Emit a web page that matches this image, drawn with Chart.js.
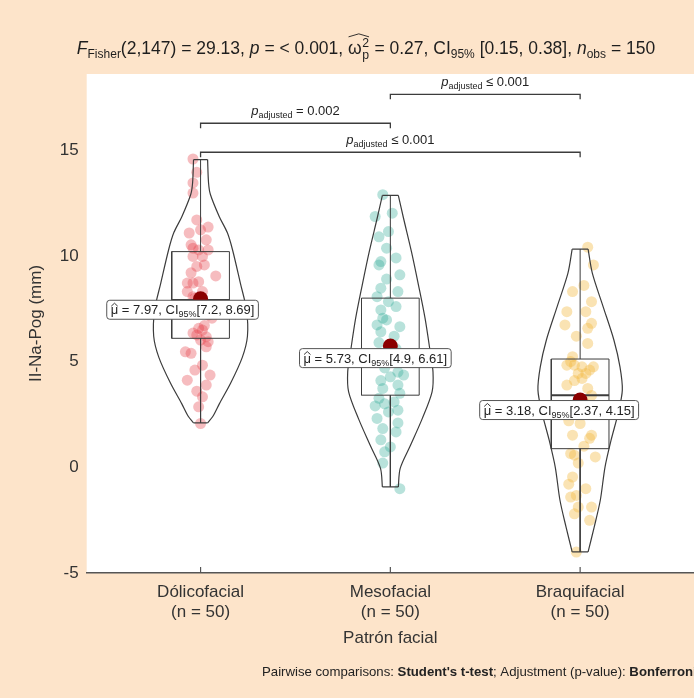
<!DOCTYPE html>
<html>
<head>
<meta charset="utf-8">
<script src="https://cdn.jsdelivr.net/npm/chart.js@4.4.0/dist/chart.umd.min.js"></script>
<style>
  html, body { margin: 0; padding: 0; background: #fde4ca; }
  canvas { display: block; }
</style>
</head>
<body>
<canvas id="chart" width="694" height="698"></canvas>
<script>
const categories = ['Dólicofacial', 'Mesofacial', 'Braquifacial'];
const groupSizes = [50, 50, 50];
const yTicks = [-5, 0, 5, 10, 15];

// jittered observations (value) and their horizontal jitter (category units)
const dolicoValues = [14.58, 13.95, 13.45, 12.97, 11.08, 11.23, 11.36, 10.76, 10.52, 10.36, 10.28, 10.28, 9.97, 9.97, 9.5, 9.57, 9.05, 8.71, 8.71, 8.78, 8.31, 8.31, 8.07, 7.7, 7.4, 7.2, 6.57, 6.49, 6.17, 6.26, 6.02, 5.94, 5.46, 5.39, 4.83, 4.12, 4.36, 3.89, 3.33, 2.86, 2.07, 6.7, 6.35, 5.7, 4.6, 11.7, 8.0, 9.2, 7.05, 3.6];
const dolicoJitter = [-.04, -.02, -.04, -.04, -.06, 0, .04, .03, -.05, -.04, -.01, .04, -.04, .01, -.02, .02, .08, -.07, -.04, -.01, -.07, .01, -.04, .02, -.03, .04, -.01, .01, .03, -.02, 0, .04, -.08, -.05, .01, -.07, .05, .03, .01, -.01, 0, .02, -.04, .03, -.03, -.02, -.03, -.05, .06, -.02];

const mesoValues = [12.89, 11.86, 12.02, 11.15, 10.36, 9.73, 9.57, 9.1, 8.47, 8.31, 8.07, 7.83, 7.44, 7.05, 6.97, 6.73, 6.65, 6.41, 5.6, 5.3, 5.0, 4.36, 4.28, 3.89, 3.73, 3.26, 3.09, 2.62, 2.7, 2.31, 1.83, 1.67, 0.96, 0.73, -1.01, 4.7, 4.5, 4.1, 3.5, 3.0, 2.1, 1.3, 6.2, 5.9, 7.6, 8.9, 10.9, 9.9, 0.2, 2.9];
const mesoJitter = [-.04, -.08, .01, -.01, -.02, -.05, -.06, .05, -.05, .04, -.07, -.01, -.05, -.04, -.02, -.07, .05, -.05, .03, -.04, .02, .07, 0, .04, -.04, -.06, .02, -.01, .04, -.07, -.04, .03, 0, -.03, .05, -.03, .04, -.05, .05, -.03, .04, -.05, .02, -.06, .03, -.02, -.06, .03, -.04, -.08];

const braquiValues = [10.41, 9.57, 8.31, 7.83, 7.36, 7.36, 6.73, 6.57, 6.81, 5.86, 5.23, 4.83, 4.83, 4.75, 4.75, 4.44, 4.44, 4.2, 3.89, 3.73, 3.0, 2.7, 2.07, 1.52, 1.52, 0.65, 0.57, 0.49, -0.46, -1.01, -1.33, -1.41, -1.88, -1.88, -2.51, -4.01, 5.0, 4.6, 4.1, 3.4, 2.5, 2.2, 1.0, 1.37, -0.8, 8.6, 6.2, 2.9, 0.2, -2.2];
const braquiJitter = [.04, .07, -.04, .06, -.07, .03, -.08, .04, .06, .04, -.04, -.07, -.03, .01, .07, .03, -.01, .01, -.07, .04, .03, -.04, 0, -.04, .06, -.05, -.03, .08, -.04, .03, -.02, -.05, -.01, .06, .05, -.02, -.05, .05, -.03, .06, .05, -.06, .02, .05, -.06, .02, -.02, -.07, -.01, -.03];

// means and 95% CI
const means = [7.97, 5.73, 3.18];
const ciLow = [7.2, 4.9, 2.37];
const ciHigh = [8.69, 6.61, 4.15];

// box stats
const q1 = [6.1, 3.41, 0.88];
const medians = [7.91, 5.3, 3.41];
const q3 = [10.2, 8.0, 5.12];
const whiskerLow = [2.1, -0.93, -4.0];
const whiskerHigh = [14.55, 12.86, 10.32];

// violin outlines: levels (top to bottom) and relative density
const dolicoLevels = [14.55, 13.46, 12.9, 11.85, 11.1, 10.3, 8.7, 7.44, 6.2, 5.2, 3.97, 3.0, 2.4, 2.1];
const dolicoDensity = [.15, .17, .21, .40, .57, .68, .85, .98, 1.0, .89, .64, .40, .26, .15];
const mesoLevels = [12.86, 11.79, 10.2, 8.62, 7.05, 5.46, 4.5, 3.57, 2.3, 1.04, -0.05, -0.93];
const mesoDensity = [.17, .28, .45, .60, .74, .85, .91, .89, .68, .43, .21, .17];
const braquiLevels = [10.32, 9.18, 7.6, 6.02, 4.75, 3.65, 2.55, 1.28, 0, -1.56, -2.83, -4.0];
const braquiDensity = [.17, .26, .49, .72, .85, .90, .81, .66, .53, .43, .30, .17];

// pairwise comparisons
const pairs = [[1, 2], [2, 3], [1, 3]];
const pairLabels = ['= 0.002', '≤ 0.001', '≤ 0.001'];
const bracketLevels = [16.27, 17.64, 14.9];

const groupValues = [dolicoValues, mesoValues, braquiValues];
const groupJitter = [dolicoJitter, mesoJitter, braquiJitter];
const groupLevels = [dolicoLevels, mesoLevels, braquiLevels];
const groupDensity = [dolicoDensity, mesoDensity, braquiDensity];
const pointColors = ['rgba(228, 62, 72, 0.35)', 'rgba(38, 168, 146, 0.33)', 'rgba(242, 186, 64, 0.40)'];

const VIOLIN_HALF = 0.247;
const BOX_HALF = 0.152;
const BRACKET_DROP = 0.24;
const LINE = '#3c3c3c';
const FONT = '"Liberation Sans", Arial, sans-serif';

function lineSet(points, width, tension) {
    return {
        type: 'scatter',
        data: points,
        showLine: true,
        borderColor: LINE,
        borderWidth: width || 1.1,
        pointRadius: 0,
        fill: false,
        tension: tension || 0,
        order: 2
    };
}

const datasets = [];

// means on top
datasets.push({
    data: means.map((m, i) => ({ x: i + 1, y: m })),
    backgroundColor: '#8b0000',
    borderWidth: 0,
    pointRadius: 7.5,
    order: 0
});

groupValues.forEach((vals, i) => {
    const c = i + 1;
    datasets.push({
        data: vals.map((v, k) => ({ x: c + groupJitter[i][k], y: v })),
        backgroundColor: pointColors[i],
        borderWidth: 0,
        pointRadius: 5.5,
        order: 3
    });

    const lv = groupLevels[i];
    const dn = groupDensity[i];
    const last = lv.length - 1;
    datasets.push(lineSet(lv.map((v, k) => ({ x: c - dn[k] * VIOLIN_HALF, y: v })), 1.2, 0.3));
    datasets.push(lineSet(lv.map((v, k) => ({ x: c + dn[k] * VIOLIN_HALF, y: v })), 1.2, 0.3));
    datasets.push(lineSet([{ x: c - dn[0] * VIOLIN_HALF, y: lv[0] }, { x: c + dn[0] * VIOLIN_HALF, y: lv[0] }], 1.2));
    datasets.push(lineSet([{ x: c - dn[last] * VIOLIN_HALF, y: lv[last] }, { x: c + dn[last] * VIOLIN_HALF, y: lv[last] }], 1.2));

    datasets.push(lineSet([
        { x: c - BOX_HALF, y: q1[i] }, { x: c + BOX_HALF, y: q1[i] },
        { x: c + BOX_HALF, y: q3[i] }, { x: c - BOX_HALF, y: q3[i] },
        { x: c - BOX_HALF, y: q1[i] }
    ], 1));
    datasets.push(lineSet([{ x: c - BOX_HALF, y: medians[i] }, { x: c + BOX_HALF, y: medians[i] }], 2));
    datasets.push(lineSet([{ x: c, y: q3[i] }, { x: c, y: whiskerHigh[i] }], 1));
    datasets.push(lineSet([{ x: c, y: q1[i] }, { x: c, y: whiskerLow[i] }], 1));
});

pairs.forEach((p, i) => {
    const L = bracketLevels[i];
    datasets.push(lineSet([
        { x: p[0], y: L - BRACKET_DROP }, { x: p[0], y: L },
        { x: p[1], y: L }, { x: p[1], y: L - BRACKET_DROP }
    ], 1.3));
});

// rich text: parts {t, size, italic, bold, dy, hat, custom}
function fontOf(p) {
    return (p.italic ? 'italic ' : '') + (p.bold ? 'bold ' : '') + p.size + 'px ' + FONT;
}

function drawRich(ctx, parts, x, y, align) {
    let total = 0;
    parts.forEach(p => {
        ctx.font = fontOf(p);
        p.w = p.custom ? p.custom(ctx, 0, 0, true) : ctx.measureText(p.t).width;
        total += p.w;
    });
    let cx = align === 'center' ? x - total / 2 : x;
    ctx.textAlign = 'left';
    ctx.textBaseline = 'alphabetic';
    parts.forEach(p => {
        ctx.font = fontOf(p);
        if (p.custom) {
            p.custom(ctx, cx, y, false);
        } else {
            ctx.fillText(p.t, cx, y + (p.dy || 0));
            if (p.hat) drawHat(ctx, cx, cx + p.w, y - p.size * 0.62);
        }
        cx += p.w;
    });
    return total;
}

function drawHat(ctx, x0, x1, yb) {
    ctx.save();
    ctx.strokeStyle = ctx.fillStyle;
    ctx.lineWidth = 0.9;
    ctx.beginPath();
    ctx.moveTo(x0 + 0.5, yb);
    ctx.lineTo((x0 + x1) / 2, yb - 3);
    ctx.lineTo(x1 - 0.5, yb);
    ctx.stroke();
    ctx.restore();
}

function omegaPart(size) {
    const sub = size * 0.7;
    return {
        t: 'ω', size: size,
        custom(ctx, x, y, measureOnly) {
            ctx.font = size + 'px ' + FONT;
            const wo = ctx.measureText('ω').width;
            ctx.font = sub + 'px ' + FONT;
            const w2 = Math.max(ctx.measureText('2').width, ctx.measureText('p').width);
            if (measureOnly) return wo + w2 + 1;
            ctx.font = size + 'px ' + FONT;
            ctx.fillText('ω', x, y);
            ctx.font = sub + 'px ' + FONT;
            ctx.fillText('2', x + wo + 0.5, y - size * 0.42);
            ctx.fillText('p', x + wo + 0.5, y + size * 0.28);
            drawHat(ctx, x, x + wo + w2 + 1, y - size * 0.98);
            return wo + w2 + 1;
        }
    };
}

const labelOffsets = [[-18, 11], [-15, 12], [-21, 10]];

const decorPlugin = {
    id: 'decor',
    beforeDraw(chart) {
        const { ctx, chartArea } = chart;
        ctx.save();
        ctx.fillStyle = '#fde4ca';
        ctx.fillRect(0, 0, chart.width, chart.height);
        ctx.fillStyle = '#ffffff';
        ctx.fillRect(chartArea.left, chartArea.top, chartArea.right - chartArea.left, chartArea.bottom - chartArea.top);
        ctx.restore();
    },
    afterDatasetsDraw(chart) {
        const { ctx, scales: { x, y }, chartArea } = chart;
        ctx.save();

        // inward x ticks
        ctx.strokeStyle = '#555';
        ctx.lineWidth = 1.2;
        [1, 2, 3].forEach(v => {
            const px = x.getPixelForValue(v);
            ctx.beginPath();
            ctx.moveTo(px, chartArea.bottom);
            ctx.lineTo(px, chartArea.bottom - 6);
            ctx.stroke();
        });

        // bracket labels
        ctx.fillStyle = '#222';
        pairs.forEach((p, i) => {
            const mx = x.getPixelForValue((p[0] + p[1]) / 2);
            const my = y.getPixelForValue(bracketLevels[i]) - 8;
            drawRich(ctx, [
                { t: 'p', size: 13, italic: true },
                { t: 'adjusted', size: 9, dy: 3 },
                { t: ' ' + pairLabels[i], size: 13 }
            ], mx, my, 'center');
        });

        // mean labels
        means.forEach((m, i) => {
            const parts = [
                { t: 'μ', size: 13, hat: true },
                { t: ' = ' + m.toFixed(2) + ', CI', size: 13 },
                { t: '95%', size: 9, dy: 3 },
                { t: '[' + ciLow[i] + ', ' + ciHigh[i] + ']', size: 13 }
            ];
            let w = 0;
            parts.forEach(p => { ctx.font = fontOf(p); w += ctx.measureText(p.t).width; });
            const cx = x.getPixelForValue(i + 1) + labelOffsets[i][0];
            const cy = y.getPixelForValue(m) + labelOffsets[i][1];
            const bw = w + 8, bh = 19;
            ctx.beginPath();
            ctx.roundRect(cx - bw / 2, cy - bh / 2, bw, bh, 3);
            ctx.fillStyle = '#ffffff';
            ctx.fill();
            ctx.strokeStyle = '#555';
            ctx.lineWidth = 1;
            ctx.stroke();
            ctx.fillStyle = '#222';
            drawRich(ctx, parts, cx, cy + 4.5, 'center');
        });
        ctx.restore();
    },
    afterDraw(chart) {
        const { ctx, chartArea } = chart;
        ctx.save();
        ctx.fillStyle = '#1e1e1e';
        drawRich(ctx, [
            { t: 'F', size: 17.5, italic: true },
            { t: 'Fisher', size: 12, dy: 3.5 },
            { t: '(2,147) = 29.13, ', size: 17.5 },
            { t: 'p', size: 17.5, italic: true },
            { t: ' = < 0.001, ', size: 17.5 },
            omegaPart(17.5),
            { t: ' = 0.27, CI', size: 17.5 },
            { t: '95%', size: 12, dy: 3.5 },
            { t: ' [0.15, 0.38], ', size: 17.5 },
            { t: 'n', size: 17.5, italic: true },
            { t: 'obs', size: 12, dy: 3.5 },
            { t: ' = 150', size: 17.5 }
        ], 366, 54, 'center');

        ctx.fillStyle = '#333';
        ctx.font = '17px ' + FONT;
        ctx.textAlign = 'center';
        ctx.textBaseline = 'middle';
        ctx.fillText('Patrón facial', (chartArea.left + chartArea.right) / 2, 638);

        ctx.save();
        ctx.translate(36, (chartArea.top + chartArea.bottom) / 2);
        ctx.rotate(-Math.PI / 2);
        ctx.fillText('II-Na-Pog (mm)', 0, 0);
        ctx.restore();

        ctx.fillStyle = '#222';
        drawRich(ctx, [
            { t: 'Pairwise comparisons: ', size: 13.2 },
            { t: "Student's t-test", size: 13.2, bold: true },
            { t: '; Adjustment (p-value): ', size: 13.2 },
            { t: 'Bonferroni', size: 13.2, bold: true }
        ], 262, 676, 'left');
        ctx.restore();
    }
};

new Chart(document.getElementById('chart'), {
    type: 'scatter',
    data: { datasets: datasets },
    options: {
        responsive: false,
        animation: false,
        layout: { autoPadding: false, padding: { top: 74, left: 0, right: 0, bottom: 0 } },
        plugins: {
            legend: { display: false },
            tooltip: { enabled: false },
            title: { display: false }
        },
        scales: {
            x: {
                type: 'linear',
                position: 'bottom',
                min: 0.4,
                max: 3.6,
                afterFit: s => { s.height = 125; s.paddingLeft = 0; s.paddingRight = 0; },
                afterBuildTicks: s => { s.ticks = [1, 2, 3].map(v => ({ value: v })); },
                grid: { display: false, drawTicks: false },
                border: { display: true, color: '#555', width: 1.5 },
                ticks: {
                    padding: 10,
                    color: '#333',
                    font: { size: 17, family: FONT, lineHeight: 1.15 },
                    callback: v => [categories[v - 1], '(n = ' + groupSizes[v - 1] + ')']
                }
            },
            y: {
                min: -5,
                max: 18.6,
                afterFit: s => { s.width = 86.7; s.paddingTop = 0; s.paddingBottom = 0; },
                afterBuildTicks: s => { s.ticks = yTicks.map(v => ({ value: v })); },
                grid: { display: false, drawTicks: false },
                border: { display: false },
                ticks: {
                    padding: 8,
                    color: '#333',
                    font: { size: 17, family: FONT }
                }
            }
        }
    },
    plugins: [decorPlugin]
});
</script>
</body>
</html>
